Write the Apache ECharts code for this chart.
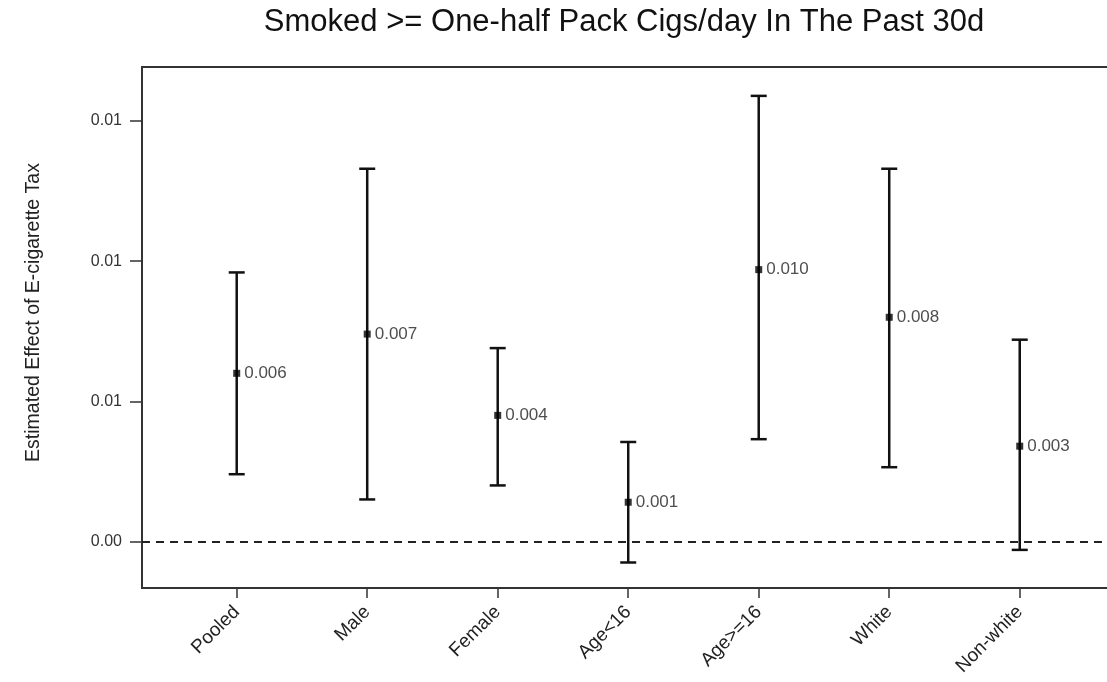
<!DOCTYPE html>
<html>
<head>
<meta charset="utf-8">
<script src="https://cdn.jsdelivr.net/npm/echarts@6/dist/echarts.min.js"></script>
<style>
html,body{margin:0;padding:0;background:#fff;}
#chart{width:1107px;height:682px;}
</style>
</head>
<body>
<div id="chart"></div>
<script>
const titleText = 'Smoked >= One-half Pack Cigs/day In The Past 30d';
const yAxisName = 'Estimated Effect of E-cigarette Tax';
const categories = ['Pooled', 'Male', 'Female', 'Age<16', 'Age>=16', 'White', 'Non-white'];
const estimates = [0.0060, 0.0074, 0.0045, 0.0014, 0.0097, 0.0080, 0.0034];
const lowerCI = [0.0024, 0.0015, 0.0020, -0.00075, 0.00365, 0.00265, -0.0003];
const upperCI = [0.0096, 0.0133, 0.0069, 0.00355, 0.0159, 0.0133, 0.0072];
const pointLabels = ['0.006', '0.007', '0.004', '0.001', '0.010', '0.008', '0.003'];
const yTickValues = [0, 0.005, 0.010, 0.015];
const yTickLabels = ['0.00', '0.01', '0.01', '0.01'];

const xIdx = categories.map((c, i) => i);
const chart = echarts.init(document.getElementById('chart'), null, {renderer: 'canvas'});
const FONT = '"Liberation Sans", Arial, sans-serif';

function nearestLabel(v) {
  let best = 0, bd = Infinity;
  yTickValues.forEach((t, i) => { const d = Math.abs(t - v); if (d < bd) { bd = d; best = i; } });
  return yTickLabels[best];
}

chart.setOption({
  animation: false,
  backgroundColor: '#fff',
  title: {
    text: titleText,
    left: 619,
    textAlign: 'center',
    top: 2,
    textStyle: {fontFamily: FONT, fontSize: 31, fontWeight: 'normal', color: '#111'}
  },
  grid: {
    left: 142, right: -8, top: 67, bottom: 94,
    outerBoundsMode: 'none',
    containLabel: false,
    show: true, borderColor: '#333', borderWidth: 2, backgroundColor: 'transparent'
  },
  xAxis: {
    type: 'value',
    min: -0.7257,
    max: 6.73,
    axisLine: {show: true, onZero: false, lineStyle: {color: '#333', width: 2}},
    splitLine: {show: false},
    axisTick: {show: true, customValues: xIdx, length: 10, lineStyle: {color: '#333', width: 1.5}},
    axisLabel: {
      customValues: xIdx,
      rotate: 45,
      margin: 21,
      fontFamily: FONT,
      fontSize: 19,
      color: '#222',
      formatter: v => categories[Math.round(v)]
    }
  },
  yAxis: {
    type: 'value',
    min: -0.00166,
    max: 0.01693,
    name: yAxisName,
    nameLocation: 'middle',
    nameGap: 98,
    nameTextStyle: {fontFamily: FONT, fontSize: 19.5, color: '#222', padding: [0, 0, 0, 30]},
    axisLine: {show: true, onZero: false, lineStyle: {color: '#333', width: 2}},
    splitLine: {show: false},
    axisTick: {show: true, customValues: yTickValues, length: 12, lineStyle: {color: '#333', width: 1.5}},
    axisLabel: {
      customValues: yTickValues,
      margin: 20,
      fontFamily: FONT,
      fontSize: 16,
      color: '#333',
      formatter: v => nearestLabel(v)
    }
  },
  series: [
    {
      type: 'custom',
      silent: true,
      data: xIdx.map(i => [i, lowerCI[i], upperCI[i]]),
      renderItem: function (params, api) {
        const x = api.value(0);
        const lo = api.coord([x, api.value(1)]);
        const hi = api.coord([x, api.value(2)]);
        const hw = 8;
        const st = {stroke: '#111', lineWidth: 2.5};
        return {
          type: 'group',
          children: [
            {type: 'line', shape: {x1: lo[0], y1: lo[1], x2: hi[0], y2: hi[1]}, style: st},
            {type: 'line', shape: {x1: lo[0] - hw, y1: lo[1], x2: lo[0] + hw, y2: lo[1]}, style: st},
            {type: 'line', shape: {x1: hi[0] - hw, y1: hi[1], x2: hi[0] + hw, y2: hi[1]}, style: st}
          ]
        };
      },
      z: 2
    },
    {
      type: 'scatter',
      data: xIdx.map(i => [i, estimates[i]]),
      symbol: 'rect',
      symbolSize: 7,
      itemStyle: {color: '#000'},
      label: {
        show: true,
        position: 'right',
        distance: 4,
        fontFamily: FONT,
        fontSize: 17,
        color: '#222',
        formatter: p => pointLabels[p.dataIndex]
      },
      markLine: {
        silent: true,
        symbol: ['none', 'none'],
        label: {show: false},
        lineStyle: {type: [8, 6], color: '#222', width: 2},
        data: [{yAxis: 0}]
      },
      z: 3
    }
  ]
});
</script>
</body>
</html>
